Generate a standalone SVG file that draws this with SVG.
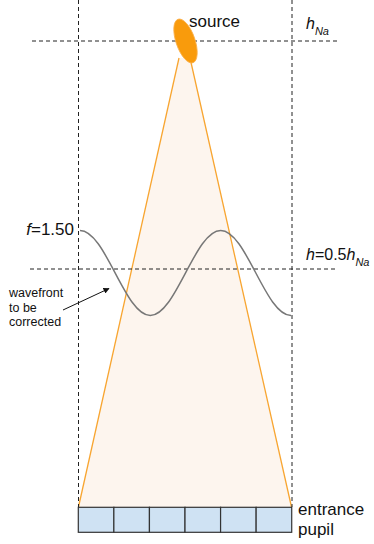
<svg xmlns="http://www.w3.org/2000/svg" width="374" height="544" viewBox="0 0 374 544">
<style>
.dash{stroke:#222;stroke-width:1;stroke-dasharray:4 3;fill:none}
.cone{stroke:#f8a530;stroke-width:1.3;fill:none}
.cell{fill:#cfe2f3;stroke:#333;stroke-width:1.2}
.lbl{font-family:"Liberation Sans",Arial,sans-serif;fill:#111}
.it{font-style:italic}
</style>
<defs>
<marker id="ah" viewBox="0 0 10 10" refX="9" refY="5" markerWidth="6" markerHeight="6" orient="auto" markerUnits="userSpaceOnUse">
<path d="M0,0 L10,5 L0,10 z" fill="#111"/>
</marker>
</defs>
<rect width="374" height="544" fill="#fff"/>
<g id="beam">
<polygon points="179,58 190,58 292,507 78,507" fill="#fdf5ee"/>
<line class="cone" x1="179" y1="58" x2="78.5" y2="507"/>
<line class="cone" x1="190" y1="58" x2="291.5" y2="507"/>
</g>
<g id="guides">
<line class="dash" x1="78.5" y1="0" x2="78.5" y2="507"/>
<line class="dash" x1="292" y1="0" x2="292" y2="507"/>
<line class="dash" x1="32" y1="41" x2="338" y2="41"/>
<line class="dash" x1="30" y1="269" x2="338" y2="269"/>
</g>
<g id="source">
<ellipse cx="185.5" cy="41" rx="9.5" ry="23" transform="rotate(-19 185.5 41)" fill="#f99b0c" stroke="#fbb04a" stroke-width="0.8"/>
<text class="lbl" x="189" y="27" font-size="17">source</text>
</g>
<g id="hNa">
<text class="lbl" x="306" y="29" font-size="16"><tspan class="it">h</tspan><tspan class="it" font-size="11" dy="6">Na</tspan></text>
</g>
<g id="wave">
<path d="M80,230.5 C105.6,230.5 124.8,315.5 150.3,315.5 S195.1,230.5 220.7,230.5 S265.4,315.5 291,315.5" fill="none" stroke="#777" stroke-width="1.5"/>
<text class="lbl" x="74" y="235" font-size="17" text-anchor="end"><tspan class="it">f</tspan>=1.50</text>
</g>
<g id="hlabel">
<text class="lbl" x="306" y="260" font-size="16"><tspan class="it">h</tspan>=0.5<tspan class="it">h</tspan><tspan class="it" font-size="11" dy="6">Na</tspan></text>
</g>
<g id="wavefront-label">
<text class="lbl" font-size="12.5"><tspan x="9" y="297">wavefront</tspan><tspan x="9" y="311.5">to be</tspan><tspan x="9" y="326">corrected</tspan></text>
</g>
<g id="connectors">
<line x1="63" y1="310" x2="109" y2="288.5" stroke="#111" stroke-width="1" marker-end="url(#ah)"/>
</g>
<g id="pupil">
<rect class="cell" x="78.3" y="507.3" width="35.57" height="25"/>
<rect class="cell" x="113.87" y="507.3" width="35.57" height="25"/>
<rect class="cell" x="149.44" y="507.3" width="35.57" height="25"/>
<rect class="cell" x="185.01" y="507.3" width="35.57" height="25"/>
<rect class="cell" x="220.58" y="507.3" width="35.57" height="25"/>
<rect class="cell" x="256.15" y="507.3" width="35.57" height="25"/>
<text class="lbl" font-size="17"><tspan x="298" y="515">entrance</tspan><tspan x="298" y="535">pupil</tspan></text>
</g>
</svg>
